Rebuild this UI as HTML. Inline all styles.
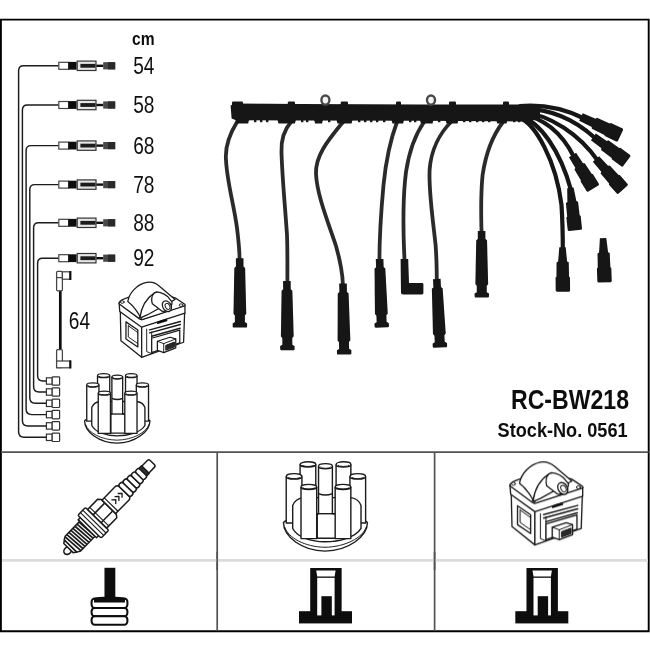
<!DOCTYPE html>
<html><head><meta charset="utf-8"><title>RC-BW218</title>
<style>
html,body{margin:0;padding:0;background:#fff;}
body{width:650px;height:650px;overflow:hidden;font-family:"Liberation Sans",sans-serif;}
svg{display:block}
</style></head><body>
<svg width="650" height="650" viewBox="0 0 650 650">
<defs><filter id="soft" x="-5%" y="-5%" width="110%" height="110%"><feGaussianBlur stdDeviation="0.6"/></filter>
<filter id="soft3" x="0" y="0" width="100%" height="100%"><feGaussianBlur stdDeviation="0.4"/></filter>
<filter id="soft2" x="-5%" y="-5%" width="110%" height="110%"><feGaussianBlur stdDeviation="0.35"/></filter></defs>
<g filter="url(#soft3)">
<rect x="0" y="0" width="650" height="650" fill="#fff"/>
<g fill="none" stroke="#000" stroke-width="1.9">
<path d="M0.9 631.2 V19.6 H648.7 V631.2 Z"/>
</g>
<g fill="none" stroke="#525252" stroke-width="1.7">
<path d="M1 452.2 H648.6"/>
<path d="M217.2 452.2 V631"/>
<path d="M434.6 452.2 V631"/>
</g>
<path d="M2 560.4 H648" stroke="#dcdcdc" stroke-width="2.6" fill="none"/>
<g fill="none" stroke="#525252" stroke-width="1.7"><path d="M217.2 552 V570"/><path d="M434.6 552 V570"/></g>
<g fill="none" stroke="#1a1a1a" stroke-width="1.45" stroke-linecap="round">
<path d="M58 65.8 H23.6 Q18.6 65.8 18.6 70.8 V431.8 Q18.6 437.3 24.1 437.3 H46"/>
<path d="M58 105.0 H27.4 Q22.4 105.0 22.4 110.0 V420.4 Q22.4 425.9 27.9 425.9 H46"/>
<path d="M58 145.6 H31.1 Q26.1 145.6 26.1 150.6 V409.1 Q26.1 414.6 31.6 414.6 H46"/>
<path d="M58 184.6 H34.8 Q29.8 184.6 29.8 189.6 V397.8 Q29.8 403.3 35.3 403.3 H46"/>
<path d="M58 222.8 H38.6 Q33.6 222.8 33.6 227.8 V386.5 Q33.6 392.0 39.1 392.0 H46"/>
<path d="M58 258.2 H42.6 Q37.6 258.2 37.6 263.2 V375.5 Q37.6 381.0 43.1 381.0 H46"/>
</g>
<g transform="translate(0 65.8)"><rect x="58.8" y="-3.5" width="9.8" height="7" fill="#fff" stroke="#444" stroke-width="1.2"/><rect x="68.4" y="-3.9" width="8.2" height="7.8" fill="#0c0c0c"/><rect x="77.2" y="-4.7" width="18.8" height="9.4" fill="#e6e6e6" stroke="#333" stroke-width="1.2"/><rect x="80.4" y="-1.9" width="15" height="3.8" fill="#1a1a1a"/><rect x="96.4" y="-1.2" width="7" height="2.4" fill="#111"/><rect x="103.2" y="-3.6" width="12" height="7.2" fill="#4a4a4a"/><rect x="108" y="-3.6" width="7.2" height="7.2" fill="#2a2a2a"/></g>
<g transform="translate(0 105.0)"><rect x="58.8" y="-3.5" width="9.8" height="7" fill="#fff" stroke="#444" stroke-width="1.2"/><rect x="68.4" y="-3.9" width="8.2" height="7.8" fill="#0c0c0c"/><rect x="77.2" y="-4.7" width="18.8" height="9.4" fill="#e6e6e6" stroke="#333" stroke-width="1.2"/><rect x="80.4" y="-1.9" width="15" height="3.8" fill="#1a1a1a"/><rect x="96.4" y="-1.2" width="7" height="2.4" fill="#111"/><rect x="103.2" y="-3.6" width="12" height="7.2" fill="#4a4a4a"/><rect x="108" y="-3.6" width="7.2" height="7.2" fill="#2a2a2a"/></g>
<g transform="translate(0 145.6)"><rect x="58.8" y="-3.5" width="9.8" height="7" fill="#fff" stroke="#444" stroke-width="1.2"/><rect x="68.4" y="-3.9" width="8.2" height="7.8" fill="#0c0c0c"/><rect x="77.2" y="-4.7" width="18.8" height="9.4" fill="#e6e6e6" stroke="#333" stroke-width="1.2"/><rect x="80.4" y="-1.9" width="15" height="3.8" fill="#1a1a1a"/><rect x="96.4" y="-1.2" width="7" height="2.4" fill="#111"/><rect x="103.2" y="-3.6" width="12" height="7.2" fill="#4a4a4a"/><rect x="108" y="-3.6" width="7.2" height="7.2" fill="#2a2a2a"/></g>
<g transform="translate(0 184.6)"><rect x="58.8" y="-3.5" width="9.8" height="7" fill="#fff" stroke="#444" stroke-width="1.2"/><rect x="68.4" y="-3.9" width="8.2" height="7.8" fill="#0c0c0c"/><rect x="77.2" y="-4.7" width="18.8" height="9.4" fill="#e6e6e6" stroke="#333" stroke-width="1.2"/><rect x="80.4" y="-1.9" width="15" height="3.8" fill="#1a1a1a"/><rect x="96.4" y="-1.2" width="7" height="2.4" fill="#111"/><rect x="103.2" y="-3.6" width="12" height="7.2" fill="#4a4a4a"/><rect x="108" y="-3.6" width="7.2" height="7.2" fill="#2a2a2a"/></g>
<g transform="translate(0 222.8)"><rect x="58.8" y="-3.5" width="9.8" height="7" fill="#fff" stroke="#444" stroke-width="1.2"/><rect x="68.4" y="-3.9" width="8.2" height="7.8" fill="#0c0c0c"/><rect x="77.2" y="-4.7" width="18.8" height="9.4" fill="#e6e6e6" stroke="#333" stroke-width="1.2"/><rect x="80.4" y="-1.9" width="15" height="3.8" fill="#1a1a1a"/><rect x="96.4" y="-1.2" width="7" height="2.4" fill="#111"/><rect x="103.2" y="-3.6" width="12" height="7.2" fill="#4a4a4a"/><rect x="108" y="-3.6" width="7.2" height="7.2" fill="#2a2a2a"/></g>
<g transform="translate(0 258.2)"><rect x="58.8" y="-3.5" width="9.8" height="7" fill="#fff" stroke="#444" stroke-width="1.2"/><rect x="68.4" y="-3.9" width="8.2" height="7.8" fill="#0c0c0c"/><rect x="77.2" y="-4.7" width="18.8" height="9.4" fill="#e6e6e6" stroke="#333" stroke-width="1.2"/><rect x="80.4" y="-1.9" width="15" height="3.8" fill="#1a1a1a"/><rect x="96.4" y="-1.2" width="7" height="2.4" fill="#111"/><rect x="103.2" y="-3.6" width="12" height="7.2" fill="#4a4a4a"/><rect x="108" y="-3.6" width="7.2" height="7.2" fill="#2a2a2a"/></g>
<g transform="translate(0 437.3)" fill="#fff" stroke="#333" stroke-width="1.2"><rect x="46.4" y="-3.2" width="5.8" height="6.4"/><rect x="52.2" y="-4.2" width="7.4" height="8.4" rx="0.8"/></g>
<g transform="translate(0 425.9)" fill="#fff" stroke="#333" stroke-width="1.2"><rect x="46.4" y="-3.2" width="5.8" height="6.4"/><rect x="52.2" y="-4.2" width="7.4" height="8.4" rx="0.8"/></g>
<g transform="translate(0 414.6)" fill="#fff" stroke="#333" stroke-width="1.2"><rect x="46.4" y="-3.2" width="5.8" height="6.4"/><rect x="52.2" y="-4.2" width="7.4" height="8.4" rx="0.8"/></g>
<g transform="translate(0 403.3)" fill="#fff" stroke="#333" stroke-width="1.2"><rect x="46.4" y="-3.2" width="5.8" height="6.4"/><rect x="52.2" y="-4.2" width="7.4" height="8.4" rx="0.8"/></g>
<g transform="translate(0 392.0)" fill="#fff" stroke="#333" stroke-width="1.2"><rect x="46.4" y="-3.2" width="5.8" height="6.4"/><rect x="52.2" y="-4.2" width="7.4" height="8.4" rx="0.8"/></g>
<g transform="translate(0 381.0)" fill="#fff" stroke="#333" stroke-width="1.2"><rect x="46.4" y="-3.2" width="5.8" height="6.4"/><rect x="52.2" y="-4.2" width="7.4" height="8.4" rx="0.8"/></g>
<g fill="#fff" stroke="#444" stroke-width="1.25"><path d="M60.3 290 V350" stroke="#0c0c0c" stroke-width="2.7" fill="none"/><rect x="56.6" y="271.4" width="5.8" height="19.4" rx="1"/><rect x="62.4" y="271.8" width="7.6" height="7.4"/><path d="M56.6 277.6 H62.4" fill="none"/><rect x="69.3" y="271" width="2.1" height="9" fill="#0c0c0c" stroke="none"/><rect x="56.6" y="349.6" width="5.8" height="18" rx="1"/><rect x="56.6" y="361" width="13.6" height="6.8"/><rect x="69.3" y="360.4" width="2.1" height="8" fill="#0c0c0c" stroke="none"/></g>
<text transform="translate(132 44.8) scale(0.85 1)" font-family="Liberation Sans, sans-serif" font-size="18.4" font-weight="bold" text-anchor="start" fill="#111">cm</text>
<text transform="translate(133.2 74.0) scale(0.81 1)" font-family="Liberation Sans, sans-serif" font-size="23.6" font-weight="normal" text-anchor="start" fill="#111">54</text>
<text transform="translate(133.2 113.2) scale(0.81 1)" font-family="Liberation Sans, sans-serif" font-size="23.6" font-weight="normal" text-anchor="start" fill="#111">58</text>
<text transform="translate(133.2 153.79999999999998) scale(0.81 1)" font-family="Liberation Sans, sans-serif" font-size="23.6" font-weight="normal" text-anchor="start" fill="#111">68</text>
<text transform="translate(133.2 192.79999999999998) scale(0.81 1)" font-family="Liberation Sans, sans-serif" font-size="23.6" font-weight="normal" text-anchor="start" fill="#111">78</text>
<text transform="translate(133.2 231.0) scale(0.81 1)" font-family="Liberation Sans, sans-serif" font-size="23.6" font-weight="normal" text-anchor="start" fill="#111">88</text>
<text transform="translate(133.2 266.4) scale(0.81 1)" font-family="Liberation Sans, sans-serif" font-size="23.6" font-weight="normal" text-anchor="start" fill="#111">92</text>
<text transform="translate(68.8 329) scale(0.81 1)" font-family="Liberation Sans, sans-serif" font-size="23.6" font-weight="normal" text-anchor="start" fill="#111">64</text>
<text transform="translate(511 409) scale(0.843 1)" font-family="Liberation Sans, sans-serif" font-size="27.4" font-weight="bold" text-anchor="start" fill="#111">RC-BW218</text>
<text transform="translate(497.6 437.2) scale(0.864 1)" font-family="Liberation Sans, sans-serif" font-size="21" font-weight="bold" text-anchor="start" fill="#111">Stock-No. 0561</text>
<g id="harness" filter="url(#soft)">
<g fill="none" stroke="#2b2b2b" stroke-width="3.8" stroke-linecap="round" stroke-linejoin="round">
<path d="M237 122 C229 135 225 148 226 160 C227 182 234 205 237 228 C238.5 240 239.5 250 239.6 260"/>
<path d="M291 122 C284 130 281 140 281.5 152 C282 175 285 205 287 235 C287.6 252 287.4 268 287.4 282"/>
<path d="M343 122 C330 138 315 155 316 174 C317 195 328 222 336 246 C340 260 342.6 272 343 286"/>
<path d="M397 122 C391 138 386 160 383.5 185 C381 212 379.4 238 379.4 262"/>
<path d="M424 122 C415 135 409 152 406 172 C403 195 403 230 404.6 262"/>
<path d="M451 122 C440 133 431 150 429.6 170 C428.6 192 433 220 435.6 245 C436.6 258 436.8 270 436.8 282"/>
<path d="M503 122 C493 135 486 152 482.6 175 C480.6 195 481 215 481.6 234"/>
</g>
<g fill="none" stroke="#141414" stroke-width="4.2" stroke-linecap="round" stroke-linejoin="round">
<path d="M520 106 C545 104 565 109 583 118"/>
<path d="M520 109 C550 108 575 120 595 138"/>
<path d="M520 112 C550 114 580 135 598 161"/>
<path d="M520 114 C545 118 563 135 574 157"/>
<path d="M520 116 C540 122 560 150 571 190"/>
<path d="M520 118 C535 124 556 160 561.5 205 C562.6 222 562.8 236 562.8 250"/>
</g>
<path d="M230.6 105.4 L235 103.6 L300 104 L420 104.4 L528 104.4 L540 106 L540 119 L527 121.6 L420 120.8 L300 120.4 L236 120.2 L231.6 118.4 Z" fill="#141414"/>
<path d="M235 118 H249.6 L248.1 123.4 H236.5 Z" fill="#141414"/>
<path d="M277 118 H296.4 L294.9 123.4 H278.5 Z" fill="#141414"/>
<path d="M313.6 118 H323.5 L322.0 123.4 H315.1 Z" fill="#141414"/>
<path d="M336 118 H353 L351.5 123.4 H337.5 Z" fill="#141414"/>
<path d="M391 118 H404.6 L403.1 123.4 H392.5 Z" fill="#141414"/>
<path d="M419.4 118 H434 L432.5 123.4 H420.9 Z" fill="#141414"/>
<path d="M445 118 H459 L457.5 123.4 H446.5 Z" fill="#141414"/>
<path d="M495.7 118 H508 L506.5 123.4 H497.2 Z" fill="#141414"/>
<rect x="232" y="101.6" width="11" height="4" rx="1.2" fill="#141414"/>
<rect x="287.8" y="101.6" width="7.199999999999989" height="4" rx="1.2" fill="#141414"/>
<rect x="340.7" y="101.6" width="7.300000000000011" height="4" rx="1.2" fill="#141414"/>
<rect x="396" y="101.6" width="5" height="4" rx="1.2" fill="#141414"/>
<rect x="449" y="101.6" width="7" height="4" rx="1.2" fill="#141414"/>
<rect x="503" y="101.6" width="6" height="4" rx="1.2" fill="#141414"/>
<rect x="254" y="119" width="2.4" height="3.2" fill="#141414"/>
<rect x="260" y="119" width="2.4" height="3.2" fill="#141414"/>
<rect x="266" y="119" width="2.4" height="3.2" fill="#141414"/>
<rect x="301" y="119" width="2.4" height="3.2" fill="#141414"/>
<rect x="306" y="119" width="2.4" height="3.2" fill="#141414"/>
<rect x="328" y="119" width="2.4" height="3.2" fill="#141414"/>
<rect x="358" y="119" width="2.4" height="3.2" fill="#141414"/>
<rect x="364" y="119" width="2.4" height="3.2" fill="#141414"/>
<rect x="370" y="119" width="2.4" height="3.2" fill="#141414"/>
<rect x="376" y="119" width="2.4" height="3.2" fill="#141414"/>
<rect x="383" y="119" width="2.4" height="3.2" fill="#141414"/>
<rect x="409" y="119" width="2.4" height="3.2" fill="#141414"/>
<rect x="414" y="119" width="2.4" height="3.2" fill="#141414"/>
<rect x="438" y="119" width="2.4" height="3.2" fill="#141414"/>
<rect x="463" y="119" width="2.4" height="3.2" fill="#141414"/>
<rect x="469" y="119" width="2.4" height="3.2" fill="#141414"/>
<rect x="476" y="119" width="2.4" height="3.2" fill="#141414"/>
<rect x="482" y="119" width="2.4" height="3.2" fill="#141414"/>
<rect x="488" y="119" width="2.4" height="3.2" fill="#141414"/>
<rect x="513" y="119" width="2.4" height="3.2" fill="#141414"/>
<rect x="518" y="119" width="2.4" height="3.2" fill="#141414"/>
<ellipse cx="325.4" cy="100.1" rx="4" ry="4.6" fill="#f4f4f4" stroke="#4a4a4a" stroke-width="2.4"/>
<ellipse cx="431" cy="100.1" rx="4" ry="4.6" fill="#f4f4f4" stroke="#4a4a4a" stroke-width="2.4"/>
<path transform="translate(239.7 258.2) rotate(-0.17)" d="M3.80 0.00 L3.80 8.33 L5.40 9.72 L6.40 55.52 L5.00 57.26 L5.00 63.85 L7.20 65.24 L7.20 68.20 Q7.2 69.40 6 69.40 L-6 69.40 Q-7.2 69.40 -7.2 68.20 L-7.20 65.24 L-5.00 63.85 L-5.00 57.26 L-6.40 55.52 L-5.40 9.72 L-3.80 8.33 L-3.80 0.00 Z" fill="#141414"/>
<path transform="translate(286.9 281) rotate(-0.41)" d="M3.80 0.00 L3.80 8.30 L5.40 9.69 L6.40 55.36 L5.00 57.09 L5.00 63.67 L7.20 65.05 L7.20 68.00 Q7.2 69.20 6 69.20 L-6 69.20 Q-7.2 69.20 -7.2 68.00 L-7.20 65.05 L-5.00 63.67 L-5.00 57.09 L-6.40 55.36 L-5.40 9.69 L-3.80 8.30 L-3.80 0.00 Z" fill="#141414"/>
<path transform="translate(343 283.5) rotate(-0.97)" d="M3.80 0.00 L3.80 8.52 L5.40 9.94 L6.40 56.81 L5.00 58.58 L5.00 65.33 L7.20 66.75 L7.20 69.81 Q7.2 71.01 6 71.01 L-6 71.01 Q-7.2 71.01 -7.2 69.81 L-7.20 66.75 L-5.00 65.33 L-5.00 58.58 L-6.40 56.81 L-5.40 9.94 L-3.80 8.52 L-3.80 0.00 Z" fill="#141414"/>
<path transform="translate(379.6 259) rotate(-1.84)" d="M3.80 0.00 L3.80 8.22 L5.40 9.59 L6.40 54.83 L5.00 56.54 L5.00 63.05 L7.20 64.42 L7.20 67.34 Q7.2 68.54 6 68.54 L-6 68.54 Q-7.2 68.54 -7.2 67.34 L-7.20 64.42 L-5.00 63.05 L-5.00 56.54 L-6.40 54.83 L-5.40 9.59 L-3.80 8.22 L-3.80 0.00 Z" fill="#141414"/>
<path transform="translate(436.8 279) rotate(-2.67)" d="M3.80 0.00 L3.80 8.23 L5.40 9.60 L6.40 54.86 L5.00 56.57 L5.00 63.09 L7.20 64.46 L7.20 67.37 Q7.2 68.57 6 68.57 L-6 68.57 Q-7.2 68.57 -7.2 67.37 L-7.20 64.46 L-5.00 63.09 L-5.00 56.57 L-6.40 54.86 L-5.40 9.60 L-3.80 8.23 L-3.80 0.00 Z" fill="#141414"/>
<path transform="translate(481.6 231) rotate(-0.17)" d="M3.80 0.00 L3.80 7.98 L5.40 9.31 L6.40 53.20 L5.00 54.86 L5.00 61.18 L7.20 62.51 L7.20 65.30 Q7.2 66.50 6 66.50 L-6 66.50 Q-7.2 66.50 -7.2 65.30 L-7.20 62.51 L-5.00 61.18 L-5.00 54.86 L-6.40 53.20 L-5.40 9.31 L-3.80 7.98 L-3.80 0.00 Z" fill="#141414"/>
<path d="M400.6 259 h7.6 l0.8 24 h13 q1.4 0 1.4 1.4 v8.6 q0 1.4 -1.4 1.4 h-19 q-2 0 -2 -2 z" fill="#141414"/>
<path transform="translate(581 117) rotate(-64.90)" d="M4.20 0.00 L4.50 13.96 L6.10 14.83 L6.30 28.79 L7.20 29.66 L7.20 42.12 Q7.2 43.62 5.8 43.62 L-5.8 43.62 Q-7.2 43.62 -7.2 42.12 L-7.20 29.66 L-6.30 28.79 L-6.10 14.83 L-4.50 13.96 L-4.20 0.00 Z" fill="#141414"/>
<path transform="translate(593.4 136.8) rotate(-53.55)" d="M4.20 0.00 L4.50 13.25 L6.10 14.08 L6.30 27.32 L7.20 28.15 L7.20 39.90 Q7.2 41.40 5.8 41.40 L-5.8 41.40 Q-7.2 41.40 -7.2 39.90 L-7.20 28.15 L-6.30 27.32 L-6.10 14.08 L-4.50 13.25 L-4.20 0.00 Z" fill="#141414"/>
<path transform="translate(596 159) rotate(-41.33)" d="M4.20 0.00 L4.50 13.08 L6.10 13.90 L6.30 26.98 L7.20 27.80 L7.20 39.38 Q7.2 40.88 5.8 40.88 L-5.8 40.88 Q-7.2 40.88 -7.2 39.38 L-7.20 27.80 L-6.30 26.98 L-6.10 13.90 L-4.50 13.08 L-4.20 0.00 Z" fill="#141414"/>
<path transform="translate(572.5 155) rotate(-31.96)" d="M4.20 0.00 L4.50 12.64 L6.10 13.42 L6.30 26.06 L7.20 26.85 L7.20 37.98 Q7.2 39.48 5.8 39.48 L-5.8 39.48 Q-7.2 39.48 -7.2 37.98 L-7.20 26.85 L-6.30 26.06 L-6.10 13.42 L-4.50 12.64 L-4.20 0.00 Z" fill="#141414"/>
<path transform="translate(570.4 187.8) rotate(-6.16)" d="M3.20 0.00 L4.50 13.71 L6.10 14.57 L6.30 28.28 L7.20 29.14 L7.20 41.35 Q7.2 42.85 5.8 42.85 L-5.8 42.85 Q-7.2 42.85 -7.2 41.35 L-7.20 29.14 L-6.30 28.28 L-6.10 14.57 L-4.50 13.71 L-3.20 0.00 Z" fill="#141414"/>
<path transform="translate(562.5 247.2) rotate(-0.51)" d="M3.20 0.00 L4.50 14.27 L6.10 15.16 L6.30 29.44 L7.20 30.33 L7.20 43.10 Q7.2 44.60 5.8 44.60 L-5.8 44.60 Q-7.2 44.60 -7.2 43.10 L-7.20 30.33 L-6.30 29.44 L-6.10 15.16 L-4.50 14.27 L-3.20 0.00 Z" fill="#141414"/>
<path transform="translate(603.1 238.2) rotate(-1.94)" d="M3.20 0.00 L4.50 14.15 L6.10 15.04 L6.30 29.19 L7.20 30.07 L7.20 42.73 Q7.2 44.23 5.8 44.23 L-5.8 44.23 Q-7.2 44.23 -7.2 42.73 L-7.20 30.07 L-6.30 29.19 L-6.10 15.04 L-4.50 14.15 L-3.20 0.00 Z" fill="#141414"/>
</g>
<g filter="url(#soft2)">
<g transform="translate(265 450) scale(0.18462)"><g fill="#fff" stroke="#1a1a1a" stroke-width="7.6" stroke-linejoin="round"><path d="M100 392 C100 470 200 546 325 548 C450 546 555 470 555 392 C520 350 130 350 100 392 Z"/><path d="M106 416 C125 475 215 525 325 527 C435 525 530 475 549 416" fill="none" stroke-width="5.319999999999999"/><path d="M190 78 V220 H275 V78"/><ellipse cx="232.5" cy="78" rx="42.5" ry="14"/><path d="M200 81 A32.5 8 0 0 0 265 81" fill="none" stroke-width="5.319999999999999"/><path d="M385 78 V220 H465 V78"/><ellipse cx="425.0" cy="78" rx="40.0" ry="14"/><path d="M395 81 A30.0 8 0 0 0 455 81" fill="none" stroke-width="5.319999999999999"/><path d="M115 143 V395 H200 V143"/><ellipse cx="157.5" cy="143" rx="42.5" ry="15"/><path d="M125 146 A32.5 9 0 0 0 190 146" fill="none" stroke-width="5.319999999999999"/><path d="M460 143 V395 H545 V143"/><ellipse cx="502.5" cy="143" rx="42.5" ry="15"/><path d="M470 146 A32.5 9 0 0 0 535 146" fill="none" stroke-width="5.319999999999999"/><path d="M150 300 C160 275 180 262 205 258 L465 258 C492 262 512 278 520 300 V425 C490 475 400 497 325 497 C250 497 175 472 150 425 Z"/><path d="M290 88 V345 H283 V478 H383 V345 H365 V88"/><ellipse cx="327.5" cy="88" rx="37.5" ry="14"/><path d="M300 91 A27 8 0 0 0 355 91" fill="none" stroke-width="5.319999999999999"/><path d="M290 236 Q327 252 365 236" fill="none"/><path d="M283 345 H383" fill="none"/><path d="M195 200 V480 H280 V200"/><ellipse cx="237.5" cy="200" rx="42.5" ry="14"/><path d="M205 203 A32.5 8 0 0 0 270 203" fill="none" stroke-width="5.319999999999999"/><path d="M380 200 V480 H465 V200"/><ellipse cx="422.5" cy="200" rx="42.5" ry="14"/><path d="M390 203 A32.5 8 0 0 0 455 203" fill="none" stroke-width="5.319999999999999"/></g></g>
<g transform="translate(117.3 443.2) scale(0.778) translate(-325.5 -551.2) translate(265 450) scale(0.18462)"><g fill="#fff" stroke="#1a1a1a" stroke-width="9.2" stroke-linejoin="round"><path d="M100 392 C100 470 200 546 325 548 C450 546 555 470 555 392 C520 350 130 350 100 392 Z"/><path d="M106 416 C125 475 215 525 325 527 C435 525 530 475 549 416" fill="none" stroke-width="6.4399999999999995"/><path d="M190 78 V220 H275 V78"/><ellipse cx="232.5" cy="78" rx="42.5" ry="14"/><path d="M200 81 A32.5 8 0 0 0 265 81" fill="none" stroke-width="6.4399999999999995"/><path d="M385 78 V220 H465 V78"/><ellipse cx="425.0" cy="78" rx="40.0" ry="14"/><path d="M395 81 A30.0 8 0 0 0 455 81" fill="none" stroke-width="6.4399999999999995"/><path d="M115 143 V395 H200 V143"/><ellipse cx="157.5" cy="143" rx="42.5" ry="15"/><path d="M125 146 A32.5 9 0 0 0 190 146" fill="none" stroke-width="6.4399999999999995"/><path d="M460 143 V395 H545 V143"/><ellipse cx="502.5" cy="143" rx="42.5" ry="15"/><path d="M470 146 A32.5 9 0 0 0 535 146" fill="none" stroke-width="6.4399999999999995"/><path d="M150 300 C160 275 180 262 205 258 L465 258 C492 262 512 278 520 300 V425 C490 475 400 497 325 497 C250 497 175 472 150 425 Z"/><path d="M290 88 V345 H283 V478 H383 V345 H365 V88"/><ellipse cx="327.5" cy="88" rx="37.5" ry="14"/><path d="M300 91 A27 8 0 0 0 355 91" fill="none" stroke-width="6.4399999999999995"/><path d="M290 236 Q327 252 365 236" fill="none"/><path d="M283 345 H383" fill="none"/><path d="M195 200 V480 H280 V200"/><ellipse cx="237.5" cy="200" rx="42.5" ry="14"/><path d="M205 203 A32.5 8 0 0 0 270 203" fill="none" stroke-width="6.4399999999999995"/><path d="M380 200 V480 H465 V200"/><ellipse cx="422.5" cy="200" rx="42.5" ry="14"/><path d="M390 203 A32.5 8 0 0 0 455 203" fill="none" stroke-width="6.4399999999999995"/></g></g>
<g transform="translate(485 450) scale(0.18462)"><g fill="#fff" stroke="#1a1a1a" stroke-width="7.2" stroke-linejoin="round" stroke-linecap="round"><path d="M142 236 L146 415 L270 514 V328 Z"/><path d="M270 328 V514 L521 424 L527 246 Z"/><path d="M176 302 L247 351 V452 L176 404 Z"/><path d="M190 325 L247 366 M190 325 V392 L247 432" fill="none" stroke-width="5.4"/><path d="M300 345 V480 L330 492 V362" fill="none" stroke-width="5.4"/><path d="M318 350 L502 300 M318 368 L502 318 M330 388 L500 340" fill="none" stroke-width="8.28"/><path d="M330 400 L498 352 V428 L330 486 Z"/><path d="M364 418 L440 394 L474 404 V458 L402 486 L364 472 Z"/><path d="M402 432 L474 404 M402 432 V486 M402 432 L364 418" fill="none" stroke-width="5.4"/><path d="M416 442 L466 423 V452 L416 471 Z" fill="#2a2a2a" stroke-width="5.4"/><path d="M135 190 L139 240 L270 334 L529 250 V203 L268 288 Z"/><path d="M135 188 Q140 172 190 156 L330 118 L470 158 L528 197 Q534 203 526 207 L278 287 Q267 290 257 284 L140 198 Q133 193 135 188 Z"/><ellipse cx="154" cy="183" rx="11" ry="8" stroke-width="5.4"/><ellipse cx="506" cy="202" rx="11" ry="8" stroke-width="5.4"/><ellipse cx="262" cy="278" rx="9" ry="6" stroke-width="5.4"/><path d="M366 304 l12 -4 M384 298 l14 -4.5 M404 292 l14 -4.5 M366 311 l54 -17" fill="none" stroke="#111" stroke-width="7.920000000000001"/><path d="M187 180 C195 130 240 78 300 66 C335 60 362 76 378 90 L470 168 L300 262 L262 278 C258 262 222 205 187 180 Z"/><path d="M260 276 C268 215 300 160 345 130 L362 122" fill="none"/><path d="M345 130 C365 118 398 126 425 150 L452 184 C450 222 415 246 392 238 L334 194 C326 168 334 142 345 130 Z"/><ellipse cx="421" cy="208" rx="25" ry="34" transform="rotate(-30 421 208)"/><ellipse cx="425" cy="209" rx="13" ry="19" transform="rotate(-30 425 209)" stroke-width="5.4"/></g></g>
<g transform="translate(152.3 359.2) scale(0.905) translate(-546.6 -547) translate(485 450) scale(0.18462)"><g fill="#fff" stroke="#1a1a1a" stroke-width="7.6" stroke-linejoin="round" stroke-linecap="round"><path d="M142 236 L146 415 L270 514 V328 Z"/><path d="M270 328 V514 L521 424 L527 246 Z"/><path d="M176 302 L247 351 V452 L176 404 Z"/><path d="M190 325 L247 366 M190 325 V392 L247 432" fill="none" stroke-width="5.699999999999999"/><path d="M300 345 V480 L330 492 V362" fill="none" stroke-width="5.699999999999999"/><path d="M318 350 L502 300 M318 368 L502 318 M330 388 L500 340" fill="none" stroke-width="8.739999999999998"/><path d="M330 400 L498 352 V428 L330 486 Z"/><path d="M364 418 L440 394 L474 404 V458 L402 486 L364 472 Z"/><path d="M402 432 L474 404 M402 432 V486 M402 432 L364 418" fill="none" stroke-width="5.699999999999999"/><path d="M416 442 L466 423 V452 L416 471 Z" fill="#2a2a2a" stroke-width="5.699999999999999"/><path d="M135 190 L139 240 L270 334 L529 250 V203 L268 288 Z"/><path d="M135 188 Q140 172 190 156 L330 118 L470 158 L528 197 Q534 203 526 207 L278 287 Q267 290 257 284 L140 198 Q133 193 135 188 Z"/><ellipse cx="154" cy="183" rx="11" ry="8" stroke-width="5.699999999999999"/><ellipse cx="506" cy="202" rx="11" ry="8" stroke-width="5.699999999999999"/><ellipse cx="262" cy="278" rx="9" ry="6" stroke-width="5.699999999999999"/><path d="M366 304 l12 -4 M384 298 l14 -4.5 M404 292 l14 -4.5 M366 311 l54 -17" fill="none" stroke="#111" stroke-width="8.36"/><path d="M187 180 C195 130 240 78 300 66 C335 60 362 76 378 90 L470 168 L300 262 L262 278 C258 262 222 205 187 180 Z"/><path d="M260 276 C268 215 300 160 345 130 L362 122" fill="none"/><path d="M345 130 C365 118 398 126 425 150 L452 184 C450 222 415 246 392 238 L334 194 C326 168 334 142 345 130 Z"/><ellipse cx="421" cy="208" rx="25" ry="34" transform="rotate(-30 421 208)"/><ellipse cx="425" cy="209" rx="13" ry="19" transform="rotate(-30 425 209)" stroke-width="5.699999999999999"/></g></g>
<g transform="translate(66 550.6) rotate(-45.6)" fill="#fff" stroke="#1a1a1a" stroke-width="1.5" stroke-linejoin="round"><ellipse cx="1.2" cy="1.2" rx="4.2" ry="3.4" fill="#fff" stroke-width="1.6"/><path d="M3.5 -6.5 L6.5 -8.6 V8.6 L3.5 6.5 Z"/><path d="M6.5 -8.8 L10 -10.7 H31.5 V10.7 H10 L6.5 8.8 Z"/><path d="M9.20 -10.6 L10.40 10.6" fill="none" stroke-width="1.7"/><path d="M12.10 -10.6 L13.30 10.6" fill="none" stroke-width="1.7"/><path d="M15.00 -10.6 L16.20 10.6" fill="none" stroke-width="1.7"/><path d="M17.90 -10.6 L19.10 10.6" fill="none" stroke-width="1.7"/><path d="M20.80 -10.6 L22.00 10.6" fill="none" stroke-width="1.7"/><path d="M23.70 -10.6 L24.90 10.6" fill="none" stroke-width="1.7"/><path d="M26.60 -10.6 L27.80 10.6" fill="none" stroke-width="1.7"/><path d="M29.50 -10.6 L30.70 10.6" fill="none" stroke-width="1.7"/><path d="M30.5 -12.8 H34 V12.8 H30.5 Z"/><path d="M33.5 -14.8 Q33.5 -16.3 35 -16.3 H43 Q44.5 -16.3 44.5 -14.8 V14.8 Q44.5 16.3 43 16.3 H35 Q33.5 16.3 33.5 14.8 Z"/><path d="M37.2 -16.3 V16.3 M40.6 -16.3 V16.3" fill="none" stroke-width="1.1"/><path d="M44.5 -13.3 H59 L61.2 -10.5 V10.5 L59 13.3 H44.5 Z"/><path d="M44.5 -5.6 H60.6 M44.5 5.6 H60.6" fill="none"/><path d="M47.5 -13.3 V13.3" fill="none" stroke-width="1.1"/><path d="M61.2 -9.6 H81 L83 -8 V8 L81 9.6 H61.2 Z"/><path d="M64.5 -9.6 V9.6" fill="none" stroke-width="1.1"/><path d="M68 -3 l3.2 3 l-3.2 3 M72.5 -3 l3.2 3 l-3.2 3 M77 -3 l3.2 3 l-3.2 3" fill="none" stroke-width="1.3"/><rect x="83.00" y="-8.40" width="5.4" height="16.80" rx="2.2"/><rect x="88.40" y="-7.85" width="5.4" height="15.70" rx="2.2"/><rect x="93.80" y="-7.30" width="5.4" height="14.60" rx="2.2"/><rect x="99.20" y="-6.75" width="5.4" height="13.50" rx="2.2"/><rect x="104.60" y="-6.20" width="5.4" height="12.40" rx="2.2"/><path d="M110 -5.4 H113.5 V5.4 H110 Z" fill="#333"/><path d="M113.5 -4.9 H121.3 Q123.3 -4.9 123.3 -2.9 V2.9 Q123.3 4.9 121.3 4.9 H113.5 Z"/></g>
<g><rect x="104.5" y="567.8" width="10.8" height="31" fill="#0a0a0a"/><rect x="91.6" y="598.6" width="35.8" height="9.4" rx="3.2" fill="#fff" stroke="#0a0a0a" stroke-width="2"/><rect x="91.6" y="608" width="35.8" height="8.2" rx="3.2" fill="#fff" stroke="#0a0a0a" stroke-width="2"/><rect x="91.6" y="616.2" width="35.8" height="8.6" rx="3.2" fill="#fff" stroke="#0a0a0a" stroke-width="2"/><path d="M94 598.4 Q97 596.6 109.5 596.6 Q122 596.6 125 598.4 V602.6 H94 Z" fill="#0a0a0a"/></g>
<g transform="translate(0 0)"><rect x="310.2" y="568" width="31.4" height="45" fill="#0a0a0a"/><path d="M316.2 570.6 H335.6 L334.6 576.4 H317.2 Z" fill="#fff"/><rect x="299" y="611.2" width="53" height="12.2" fill="#0a0a0a"/><rect x="317.2" y="577.8" width="17.4" height="37.6" fill="#fff"/><rect x="321.4" y="596.2" width="10.4" height="20" fill="#0a0a0a"/></g>
<g transform="translate(216.3 0)"><rect x="310.2" y="568" width="31.4" height="45" fill="#0a0a0a"/><path d="M316.2 570.6 H335.6 L334.6 576.4 H317.2 Z" fill="#fff"/><rect x="299" y="611.2" width="53" height="12.2" fill="#0a0a0a"/><rect x="317.2" y="577.8" width="17.4" height="37.6" fill="#fff"/><rect x="321.4" y="596.2" width="10.4" height="20" fill="#0a0a0a"/></g>
</g>
</g>
</svg>
</body></html>
